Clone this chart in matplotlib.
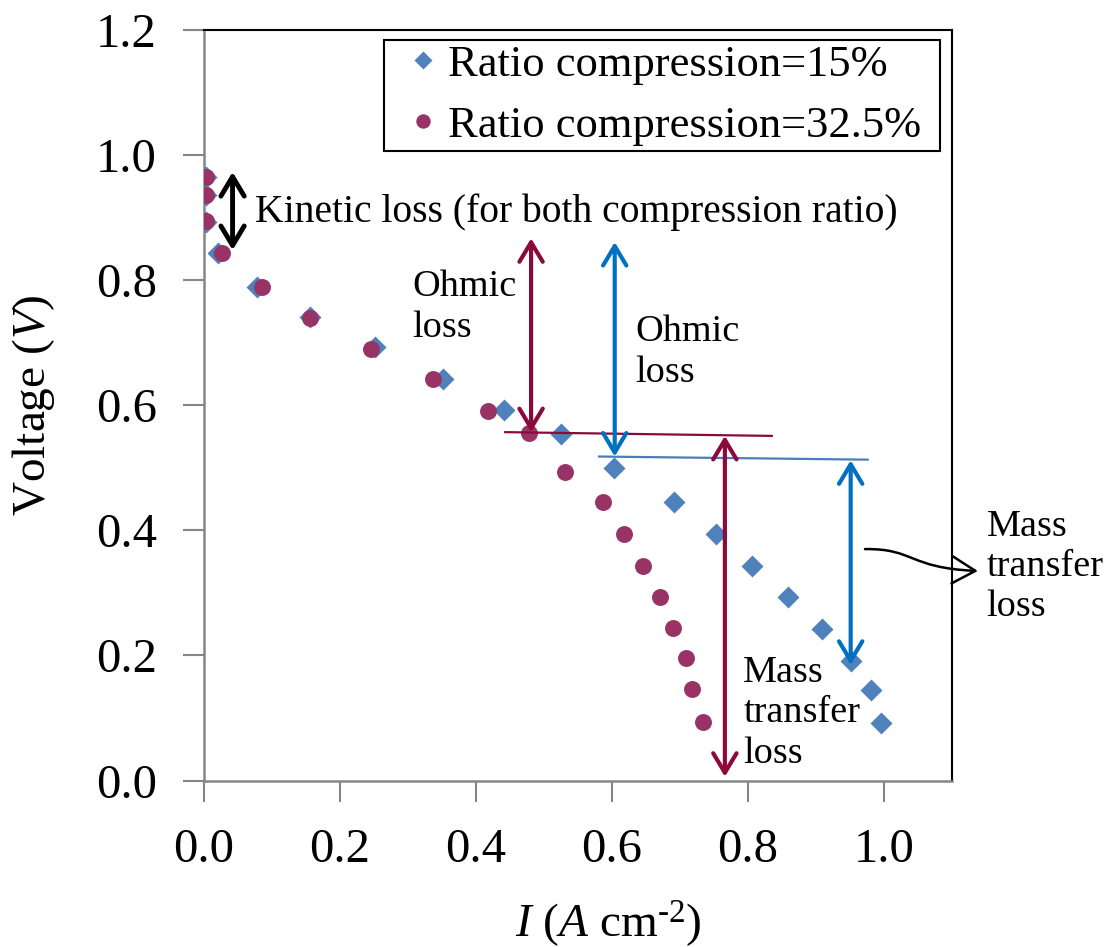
import matplotlib
matplotlib.use("Agg")
import matplotlib.pyplot as plt
from matplotlib.patches import Rectangle, FancyArrowPatch
from matplotlib.path import Path

plt.rcParams['font.family'] = ['Liberation Serif', 'DejaVu Serif']
plt.rcParams['mathtext.fontset'] = 'custom'
plt.rcParams['mathtext.rm'] = 'Liberation Serif'
plt.rcParams['mathtext.it'] = 'Liberation Serif:italic'

# ---- data ----
I_15 = [0.003, 0.003, 0.003, 0.021, 0.078, 0.156, 0.251, 0.351, 0.441, 0.525,
        0.603, 0.691, 0.753, 0.806, 0.859, 0.909, 0.951, 0.981, 0.996]
V_15 = [0.965, 0.936, 0.893, 0.843, 0.789, 0.741, 0.693, 0.642, 0.593, 0.554,
        0.500, 0.445, 0.394, 0.343, 0.293, 0.242, 0.191, 0.145, 0.092]
I_32 = [0.003, 0.003, 0.003, 0.026, 0.085, 0.156, 0.246, 0.337, 0.418, 0.478,
        0.531, 0.587, 0.618, 0.646, 0.671, 0.690, 0.709, 0.718, 0.734]
V_32 = [0.965, 0.936, 0.894, 0.843, 0.789, 0.739, 0.690, 0.642, 0.591, 0.556,
        0.493, 0.445, 0.394, 0.343, 0.293, 0.244, 0.196, 0.147, 0.093]
labels = ['Ratio compression=15%', 'Ratio compression=32.5%']
xticks = [0.0, 0.2, 0.4, 0.6, 0.8, 1.0]
yticks = [0.0, 0.2, 0.4, 0.6, 0.8, 1.0, 1.2]

# annotation geometry (data coords)
kin_arrow = (0.042, 0.973, 0.848)
ohm32_arrow = (0.481, 0.867, 0.557)
ohm15_arrow = (0.604, 0.861, 0.518)
mt32_arrow = (0.766, 0.551, 0.006)
mt15_arrow = (0.951, 0.512, 0.185)
line32 = ([0.443, 0.835], [0.557, 0.551])
line15 = ([0.581, 0.976], [0.518, 0.513])

BLUE_M = '#4F81BD'
PLUM = '#993366'
MAROON = '#8B0A3C'
BLUE_A = '#0070C0'
GRAY = '#868686'

fig = plt.figure(figsize=(11.12, 9.47), dpi=100)
ax = fig.add_axes([204/1112, 1-780.5/947, 748/1112, 750.5/947])
ax.set_xlim(0, 1.1)
ax.set_ylim(0, 1.2)

ax.plot(I_15, V_15, ls='none', marker='D', ms=11.2, color=BLUE_M, mec='none', label=labels[0], zorder=3)
ax.plot(I_32, V_32, ls='none', marker='o', ms=12.2, color=PLUM, mec='none', label=labels[1], zorder=4)

ax.set_xticks(xticks)
ax.set_yticks(yticks)
ax.set_xticklabels([f'{v:.1f}' for v in xticks])
ax.set_yticklabels([f'{v:.1f}' for v in yticks])
ax.tick_params(axis='both', direction='out', length=15, width=1.5, color=GRAY,
               labelsize=35, pad=19)
for s in ['left', 'bottom']:
    ax.spines[s].set_color(GRAY)
    ax.spines[s].set_linewidth(1.8)
for s in ['top', 'right']:
    ax.spines[s].set_color('black')
    ax.spines[s].set_linewidth(1.5)

ax.set_ylabel(r'Voltage ($\mathit{V}$)', fontsize=34)
ax.yaxis.set_label_coords(-0.197, 0.5)
ax.set_xlabel(r'$\mathit{I}$ ($\mathit{A}$ cm$^{\text{-}2}$)', fontsize=34)
ax.xaxis.set_label_coords(0.541, -0.157)

# legend with separate frame
leg = ax.legend(loc='upper left', bbox_to_anchor=(0.2754, 0.9807), frameon=False,
                fontsize=32, borderpad=0, borderaxespad=0, handlelength=0.6,
                handletextpad=0.25, labelspacing=0.47, markerscale=0.85)
ax.add_patch(Rectangle((0.241, 0.839), 0.743, 0.148, transform=ax.transAxes,
                       facecolor='white', edgecolor='black', lw=1.5, zorder=5))
leg.set_zorder(6)

def darrow(spec, color, lw=3.0):
    x, y1, y2 = spec
    ax.annotate('', xy=(x, y2), xytext=(x, y1),
                arrowprops=dict(arrowstyle='<->,head_length=0.5,head_width=0.3',
                                lw=lw, color=color, shrinkA=0, shrinkB=0,
                                mutation_scale=28), zorder=7)

darrow(kin_arrow, 'black', 3.5)
darrow(ohm32_arrow, MAROON)
darrow(ohm15_arrow, BLUE_A)
darrow(mt32_arrow, MAROON)
darrow(mt15_arrow, BLUE_A)
ax.plot(*line32, color=MAROON, lw=1.6, zorder=6)
ax.plot(*line15, color='#4A7EBB', lw=1.6, zorder=6)

fs = 27.5
ax.text(0.075, 0.893, 'Kinetic loss (for both compression ratio)', fontsize=28.5,
        ha='left', va='baseline')
ax.text(0.306, 0.757, 'Ohmic\nloss', fontsize=fs, ha='left', va='center', linespacing=1.25)
ax.text(0.634, 0.685, 'Ohmic\nloss', fontsize=fs, ha='left', va='center', linespacing=1.25)
ax.text(0.793, 0.108, 'Mass\ntransfer\nloss', fontsize=fs, ha='left', va='center', linespacing=1.22)
ax.text(1.151, 0.342, 'Mass\ntransfer\nloss', fontsize=fs, ha='left', va='center',
        linespacing=1.22, clip_on=False)

# curved connector to outer label
pts = [(0.972, 0.370), (1.045, 0.371), (1.035, 0.340), (1.138, 0.335)]
path = Path(pts, [Path.MOVETO, Path.CURVE4, Path.CURVE4, Path.CURVE4])
arr = FancyArrowPatch(path=path, arrowstyle='->,head_length=0.6,head_width=0.35',
                      mutation_scale=28, lw=1.8, color='black', clip_on=False,
                      transform=ax.transData, zorder=7)
ax.add_patch(arr)

fig.savefig('out.png', dpi=100)
